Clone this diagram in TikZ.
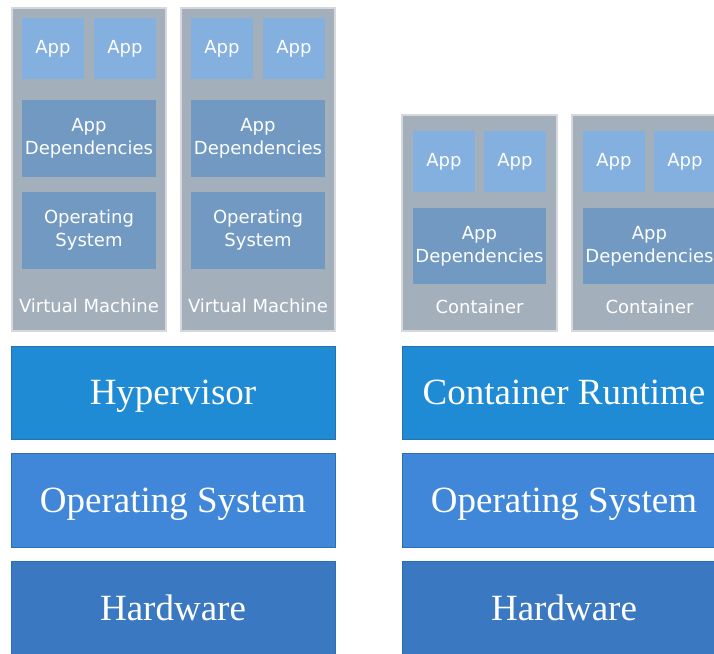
\documentclass[tikz,border=0pt]{standalone}
\usepackage{fontspec}
\setmainfont{Liberation Serif}
\newfontfamily\boxfont{DejaVu Sans}
\definecolor{shellgray}{HTML}{A4AFBC}
\definecolor{shellline}{HTML}{D6D8DB}
\definecolor{appblue}{HTML}{84B0DF}
\definecolor{depblue}{HTML}{7199C2}
\definecolor{hypblue}{HTML}{1E8BD4}
\definecolor{osblue}{HTML}{4187D9}
\definecolor{hwblue}{HTML}{3A78C1}
\definecolor{barline}{HTML}{2A6FAE}

\tikzset{
  block/.style={rectangle, inner sep=0pt, text=white, align=center},
  shell/.style={block, fill=shellgray, draw=shellline, line width=1.5pt},
  small/.style={font=\boxfont\fontsize{18}{23}\selectfont},
  appbox/.style={block, small, fill=appblue, minimum width=62pt, minimum height=61pt},
  depbox/.style={block, small, fill=depblue, minimum height=77pt},
  layer/.style={block, draw=barline, line width=0.8pt, minimum width=324pt,
    minimum height=93pt, text depth=0pt, font=\fontsize{37}{44}\selectfont}
}

\begin{document}
\begin{tikzpicture}[x=1pt, y=-1pt]
  \useasboundingbox (0,0) rectangle (714,653);
  \clip (0,0) rectangle (714,653);

  % virtual machines
  \foreach \i/\ox in {1/0, 2/169}
  {
    \node[shell, minimum width=154pt, minimum height=323pt] (vm\i) at (89+\ox,169.5) {};
    \node[appbox] (vm\i-appa) at (53+\ox,48.5) {App};
    \node[appbox] (vm\i-appb) at (125+\ox,48.5) {App};
    \node[depbox, minimum width=134pt] (vm\i-dep) at (89+\ox,138.5) {App\\Dependencies};
    \node[depbox, minimum width=134pt] (vm\i-os) at (89+\ox,230.5) {Operating\\System};
    \node[block, small] (vm\i-label) at (89+\ox,306) {Virtual Machine};
  }

  % containers
  \foreach \i/\ox in {1/0, 2/170}
  {
    \node[shell, minimum width=155pt, minimum height=216pt] (ct\i) at (479.5+\ox,223) {};
    \node[appbox] (ct\i-appa) at (444+\ox,161.5) {App};
    \node[appbox] (ct\i-appb) at (515+\ox,161.5) {App};
    \node[depbox, minimum width=133pt, minimum height=76pt] (ct\i-dep) at (479.5+\ox,246) {App\\Dependencies};
    \node[block, small] (ct\i-label) at (479.5+\ox,307) {Container};
  }

  % layers
  \node[layer, fill=hypblue] (hyp) at (173,392.5) {Hypervisor};
  \node[layer, fill=osblue, minimum height=94pt] (vmos) at (173,500) {Operating System};
  \node[layer, fill=hwblue, minimum height=94pt] (vmhw) at (173,608) {Hardware};

  \node[layer, fill=hypblue] (rt) at (564,392.5) {Container Runtime};
  \node[layer, fill=osblue, minimum height=94pt] (ctos) at (564,500) {Operating System};
  \node[layer, fill=hwblue, minimum height=94pt] (cthw) at (564,608) {Hardware};
\end{tikzpicture}
\end{document}
